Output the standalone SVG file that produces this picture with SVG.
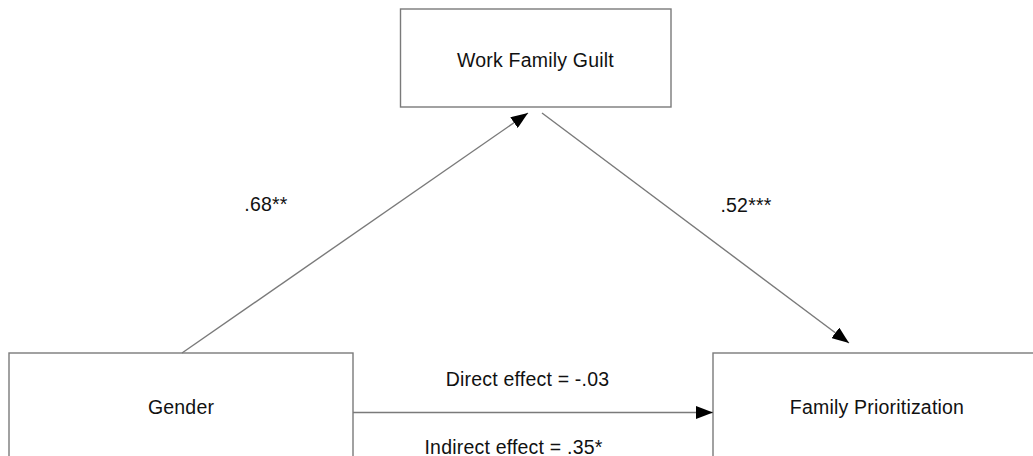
<svg xmlns="http://www.w3.org/2000/svg" width="1033" height="456" viewBox="0 0 1033 456">
<style>
.box{fill:#fff;stroke:#7a7a7a;stroke-width:1.4}
.t{font-family:"Liberation Sans",Arial,sans-serif;font-size:19.5px;fill:#111;text-anchor:middle;letter-spacing:0.2px}
.c{stroke:#7a7a7a;stroke-width:1.4;fill:none}
</style>
<defs>
<marker id="ah" viewBox="0 0 17 13" refX="17" refY="6.5" markerWidth="17" markerHeight="13" markerUnits="userSpaceOnUse" orient="auto">
<path d="M0,0 L17,6.5 L0,13 Z" fill="#000"/>
</marker>
</defs>
<rect width="1033" height="456" fill="#fff"/>
<g id="wfg"><rect class="box" x="400.5" y="9" width="270.5" height="98"/><text class="t" x="535.5" y="67">Work Family Guilt</text></g>
<g id="gender"><rect class="box" x="9" y="353" width="344" height="120"/><text class="t" x="181" y="414">Gender</text></g>
<g id="fp"><rect class="box" x="713" y="353" width="340" height="120"/><text class="t" x="877" y="414">Family Prioritization</text></g>
<g id="connectors">
<line class="c" x1="182" y1="353" x2="528" y2="113" marker-end="url(#ah)"/>
<line class="c" x1="542" y1="113" x2="849" y2="343" marker-end="url(#ah)"/>
<line class="c" x1="353" y1="412.5" x2="713" y2="412.5" marker-end="url(#ah)"/>
</g>
<g id="labels">
<text class="t" x="266" y="211">.68**</text>
<text class="t" x="746" y="212">.52***</text>
<text class="t" x="527.5" y="386">Direct effect = -.03</text>
<text class="t" x="513.5" y="454">Indirect effect = .35*</text>
</g>
</svg>
